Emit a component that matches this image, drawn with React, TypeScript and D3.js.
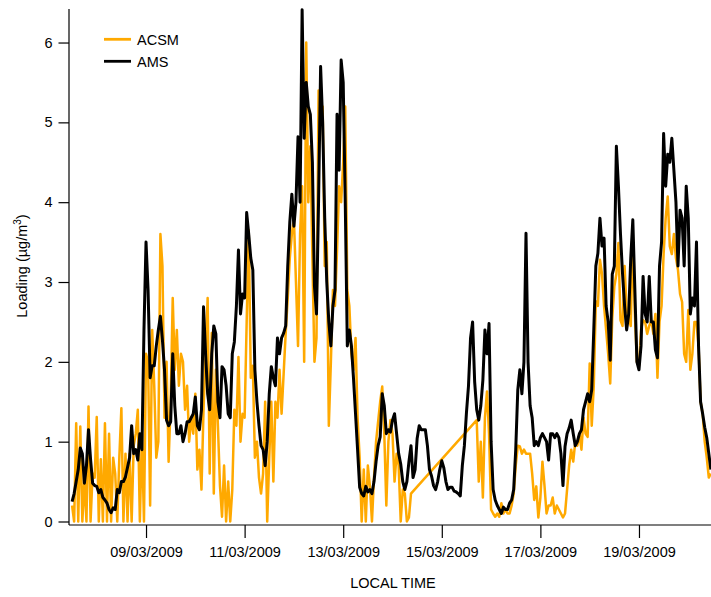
import { useEffect, useRef } from "react";
import * as d3 from "d3";

const WIDTH = 711;
const HEIGHT = 597;
const margin = { top: 9, right: 0, bottom: 72, left: 69 };

// hourly samples, starting 07/03/2009 12:00 local time
const START = new Date(2009, 2, 7, 12);
const STEP_HOURS = 1;

const AMS: number[] = [
  0.25, 0.35, 0.5, 0.65, 0.92, 0.85, 0.48, 0.7, 1.15, 0.78, 0.48, 0.45,
  0.44, 0.36, 0.4, 0.3, 0.27, 0.23, 0.15, 0.11, 0.17, 0.15, 0.4, 0.36,
  0.5, 0.5, 0.56, 0.68, 0.8, 1.2, 0.85, 0.9, 0.77, 1.1, 0.9, 2.4,
  3.5, 2.9, 1.8, 1.95, 1.95, 2.2, 2.4, 2.57, 2.27, 1.9, 1.27, 1.2,
  1.25, 2.1, 1.45, 1.1, 1.1, 1.2, 1.0, 1.1, 1.25, 1.25, 1.3, 1.35,
  1.56, 1.2, 1.15, 1.4, 2.69, 2.1, 1.6, 1.4, 2.1, 2.45, 2.35, 1.5,
  1.3, 1.94, 1.9, 1.7, 1.35, 1.3, 2.1, 2.25, 2.7, 3.4, 2.6, 2.85,
  2.8, 3.87, 3.6, 3.3, 3.15, 1.9, 1.5, 1.2, 0.95, 0.9, 0.7, 1.0,
  1.6, 1.94, 1.8, 1.7, 2.3, 2.1, 2.3, 2.36, 2.45, 3.2, 3.75, 4.1,
  3.7, 4.0, 4.82, 4.0, 6.41, 4.8, 5.5, 5.2, 5.1, 4.5, 2.95, 2.6,
  4.0, 5.7, 5.0, 3.8, 3.0, 2.5, 2.2, 2.7, 2.9, 5.1, 4.4, 5.78,
  5.5, 4.0, 2.2, 2.4, 2.2, 1.8, 1.35, 0.9, 0.43, 0.35, 0.32, 0.44,
  0.37, 0.4, 0.35, 0.5, 0.75, 0.95, 1.06, 1.6, 1.45, 1.1, 1.15, 1.12,
  1.27, 1.35, 1.1, 0.85, 0.72, 0.5, 0.4, 0.5, 0.75, 0.95, 0.55, 0.65,
  1.04, 1.2, 1.15, 1.15, 1.15, 0.95, 0.65, 0.57, 0.45, 0.4, 0.5, 0.65,
  0.76, 0.67, 0.5, 0.4, 0.43, 0.43, 0.38, 0.37, 0.35, 0.32, 0.7, 0.95,
  1.36, 1.7, 2.3, 2.5, 1.75, 1.4, 1.27, 1.45, 1.77, 2.4, 2.1, 2.48,
  1.0, 0.4, 0.27, 0.2, 0.15, 0.1, 0.18, 0.15, 0.15, 0.23, 0.27, 0.4,
  0.9, 1.65, 1.9, 1.6, 2.0, 3.61, 2.0, 1.45, 1.3, 0.95, 1.0, 0.95,
  1.05, 1.1, 1.05, 1.0, 0.77, 1.1, 1.1, 1.05, 1.1, 1.05, 0.85, 0.45,
  0.94, 1.1, 1.17, 1.27, 1.1, 0.95, 1.0, 1.1, 1.15, 1.4, 1.5, 1.6,
  1.5, 1.65, 2.4, 3.2, 3.36, 3.8, 3.45, 3.55, 2.7, 2.5, 2.02, 3.1,
  3.2, 4.7, 4.2, 3.6, 3.1, 2.7, 2.4, 2.6, 3.3, 3.78, 2.9, 2.0,
  1.9, 2.2, 3.07, 2.6, 2.5, 3.07, 2.5, 2.5, 2.15, 2.05, 3.2, 3.5,
  4.86, 4.2, 4.6, 4.5, 4.8, 4.4, 4.0, 3.2, 3.9, 3.8, 3.2, 4.2,
  3.8, 2.6, 2.8, 2.7, 3.5, 2.2, 1.5, 1.35, 1.18, 1.05, 0.85, 0.65,
];

// null = no ACSM sample (the trace is drawn straight across these)
const ACSM: (number | null)[] = [
  0.2, 0.0, 1.23, 0.0, 1.19, 0.0, 0.52, 0.0, 1.44, 0.0, 0.6, 0.55,
  1.31, 0.0, 0.78, 0.0, 1.23, 0.0, 1.1, 0.0, 0.8, 0.6, 0.0, 0.8,
  1.42, 0.0, 0.85, 0.0, 0.85, 0.0, 0.95, 1.1, 1.4, 0.0, 1.1, 0.0,
  2.1, 2.0, 0.2, 2.4, 1.7, 0.8, 1.0, 3.6, 3.2, 1.3, 2.0, 0.75,
  1.5, 2.8, 1.9, 2.4, 1.7, 2.1, 2.0, 1.4, 1.7, 1.0, 1.3, 1.1,
  1.6, 0.65, 0.9, 0.4, 1.4, 2.1, 2.8, 0.6, 2.36, 0.35, 1.9, 1.2,
  0.45, 0.06, 0.7, 0.0, 0.5, 0.0, 0.4, 1.4, 1.2, 2.06, 1.0, 1.35,
  1.3, 2.5, 3.65, 1.8, 1.95, 0.8, 1.0, 0.55, 0.35, 0.6, 1.5, 0.0,
  0.8, 1.5, 0.5, 1.5, 1.3, 1.9, 1.35, 1.85, 2.36, 2.8, 3.3, 3.6,
  3.8, 3.0, 2.2, 3.6, 4.2, 2.0, 6.0, 4.0, 4.7, 3.3, 2.0, 2.3,
  5.4, 5.1, 5.2, 3.2, 3.5, 1.2, 2.0, 2.9, 2.7, 3.4, 4.2, 4.0,
  4.5, 5.2, 2.9, 2.7, 2.1, 1.9, 2.3, 1.3, 0.8, 0.0, 0.65, 0.0,
  0.7, 0.44, 0.0, 0.55, 1.0, 1.25, 1.5, 1.69, 1.1, 0.2, 1.0, 1.27,
  1.1, 0.5, 0.85, 0.7, 0.0, 0.4, 0.35, 0.0, 0.05, 0.35, null, null,
  null, null, null, null, null, null, null, null, null, null, null, null,
  null, null, null, null, null, null, null, null, null, null, null, null,
  null, null, null, null, null, 1.27, 0.5, 1.0, 0.3, 1.3, 1.63, 1.1,
  0.15, 0.1, 0.06, 0.1, 0.06, 0.23, 0.1, 0.15, 0.1, 0.1, 0.2, 0.35,
  0.7, 0.95, 0.94, 0.85, 0.9, 0.85, 0.85, 0.85, 0.6, 0.27, 0.44, 0.05,
  0.3, 0.75, 0.45, 0.1, 0.2, 0.2, 0.3, 0.1, 0.2, 0.15, 0.1, 0.05,
  0.1, null, 0.7, 0.9, 0.75, 1.0, 0.95, 1.1, 0.9, 1.3, 1.1, 1.06,
  1.98, 1.2, 1.7, 2.76, 2.7, 3.28, 3.1, 2.7, 2.4, 2.1, 1.73, 2.55,
  2.94, 3.1, 3.49, 2.52, 2.45, 3.2, 2.65, 2.55, 2.45, 3.57, 2.6, 2.0,
  1.95, 2.4, 2.52, 2.5, 2.35, 2.45, 2.52, 2.35, 2.6, 1.8, 2.5, 2.7,
  3.35, 3.8, 4.07, 3.45, 3.35, 3.6, 3.3, 3.15, 2.85, 2.75, 2.1, 2.0,
  2.65, 1.9, 2.1, 2.5, 2.5, 2.2, 1.5, 1.35, 1.0, 0.8, 0.55, 0.6,
];

const SERIES_NAMES = ["ACSM", "AMS"];
const SERIES_COLORS = ["#FFA900", "#000000"];
const SERIES_WIDTHS = [2.5, 3.0];
const TICK_LABELS = ["09/03/2009", "11/03/2009", "13/03/2009", "15/03/2009", "17/03/2009", "19/03/2009"];
const Y_TICKS = [0, 1, 2, 3, 4, 5, 6];

const FONT = "'Liberation Sans', Arial, Helvetica, sans-serif";

type Pt = { t: Date; v: number | null };

const App = () => {
  const svgRef = useRef<SVGSVGElement | null>(null);

  useEffect(() => {
    if (!svgRef.current) return;
    const svg = d3.select(svgRef.current);
    svg.selectAll("*").remove();

    const toPts = (arr: (number | null)[]): Pt[] =>
      arr.map((v, i) => ({ t: d3.timeHour.offset(START, i * STEP_HOURS), v }));
    const series = [toPts(ACSM).filter((d) => d.v !== null), toPts(AMS)];

    const parse = d3.timeParse("%d/%m/%Y");
    const tickDates = TICK_LABELS.map((s) => parse(s) as Date);

    const x = d3
      .scaleTime()
      .domain([new Date(2009, 2, 7, 10, 30), new Date(2009, 2, 20, 11, 4)])
      .range([margin.left, WIDTH - margin.right]);

    const y = d3.scaleLinear().domain([0, 6.42]).range([521.5, margin.top]);

    const axisY = 525;

    svg
      .append("defs")
      .append("clipPath")
      .attr("id", "plot-clip")
      .append("rect")
      .attr("x", margin.left)
      .attr("y", 0)
      .attr("width", WIDTH - margin.left - margin.right)
      .attr("height", axisY);

    const line = d3
      .line<Pt>()
      .x((d) => x(d.t))
      .y((d) => y(d.v as number));

    const plot = svg.append("g").attr("clip-path", "url(#plot-clip)");
    series.forEach((data, i) => {
      plot
        .append("path")
        .datum(data)
        .attr("fill", "none")
        .attr("stroke", SERIES_COLORS[i])
        .attr("stroke-width", SERIES_WIDTHS[i])
        .attr("stroke-linejoin", "round")
        .attr("d", line);
    });

    // y axis
    const gy = svg
      .append("g")
      .attr("transform", `translate(${margin.left},0)`)
      .call(d3.axisLeft(y).tickValues(Y_TICKS).tickSize(10.5).tickPadding(6).tickFormat(d3.format("d")));
    gy.select(".domain").remove();
    gy.selectAll(".tick line").attr("stroke", "#000").attr("stroke-width", 1.2);
    gy.selectAll(".tick text").attr("font-family", FONT).attr("font-size", 14.5).attr("fill", "#000");
    gy.append("line")
      .attr("x1", 0)
      .attr("x2", 0)
      .attr("y1", margin.top)
      .attr("y2", axisY)
      .attr("stroke", "#000")
      .attr("stroke-width", 1.2);

    // x axis
    const gx = svg
      .append("g")
      .attr("transform", `translate(0,${axisY})`)
      .call(
        d3
          .axisBottom(x)
          .tickValues(tickDates)
          .tickSize(13)
          .tickPadding(9)
          .tickFormat((d) => d3.timeFormat("%d/%m/%Y")(d as Date))
      );
    gx.select(".domain").remove();
    gx.selectAll(".tick line").attr("stroke", "#000").attr("stroke-width", 1.2);
    gx.selectAll(".tick text").attr("font-family", FONT).attr("font-size", 14.5).attr("fill", "#000");
    gx.append("line")
      .attr("x1", margin.left)
      .attr("x2", WIDTH)
      .attr("y1", 0)
      .attr("y2", 0)
      .attr("stroke", "#000")
      .attr("stroke-width", 1.2);

    // axis titles
    svg
      .append("text")
      .attr("x", 393)
      .attr("y", 588)
      .attr("text-anchor", "middle")
      .attr("font-family", FONT)
      .attr("font-size", 14.5)
      .text("LOCAL TIME");

    const yt = svg
      .append("text")
      .attr("transform", "translate(27,266) rotate(-90)")
      .attr("text-anchor", "middle")
      .attr("font-family", FONT)
      .attr("font-size", 14.5);
    yt.append("tspan").text("Loading (µg/m");
    yt.append("tspan").attr("font-size", 10).attr("dy", -6).text("3");
    yt.append("tspan").attr("dy", 6).text(")");

    // legend
    const legend = svg.append("g");
    SERIES_NAMES.forEach((name, i) => {
      const ly = 39.3 + i * 22;
      legend
        .append("line")
        .attr("x1", 104)
        .attr("x2", 131)
        .attr("y1", ly)
        .attr("y2", ly)
        .attr("stroke", SERIES_COLORS[i])
        .attr("stroke-width", 2.8);
      legend
        .append("text")
        .attr("x", 137)
        .attr("y", ly)
        .attr("dy", "0.36em")
        .attr("font-family", FONT)
        .attr("font-size", 14.5)
        .text(name);
    });
  }, []);

  return (
    <div className="app">
      <svg
        ref={svgRef}
        width={WIDTH}
        height={HEIGHT}
        style={{ position: "absolute", left: 0, top: 0, background: "#fff" }}
      />
    </div>
  );
};

export default App;
